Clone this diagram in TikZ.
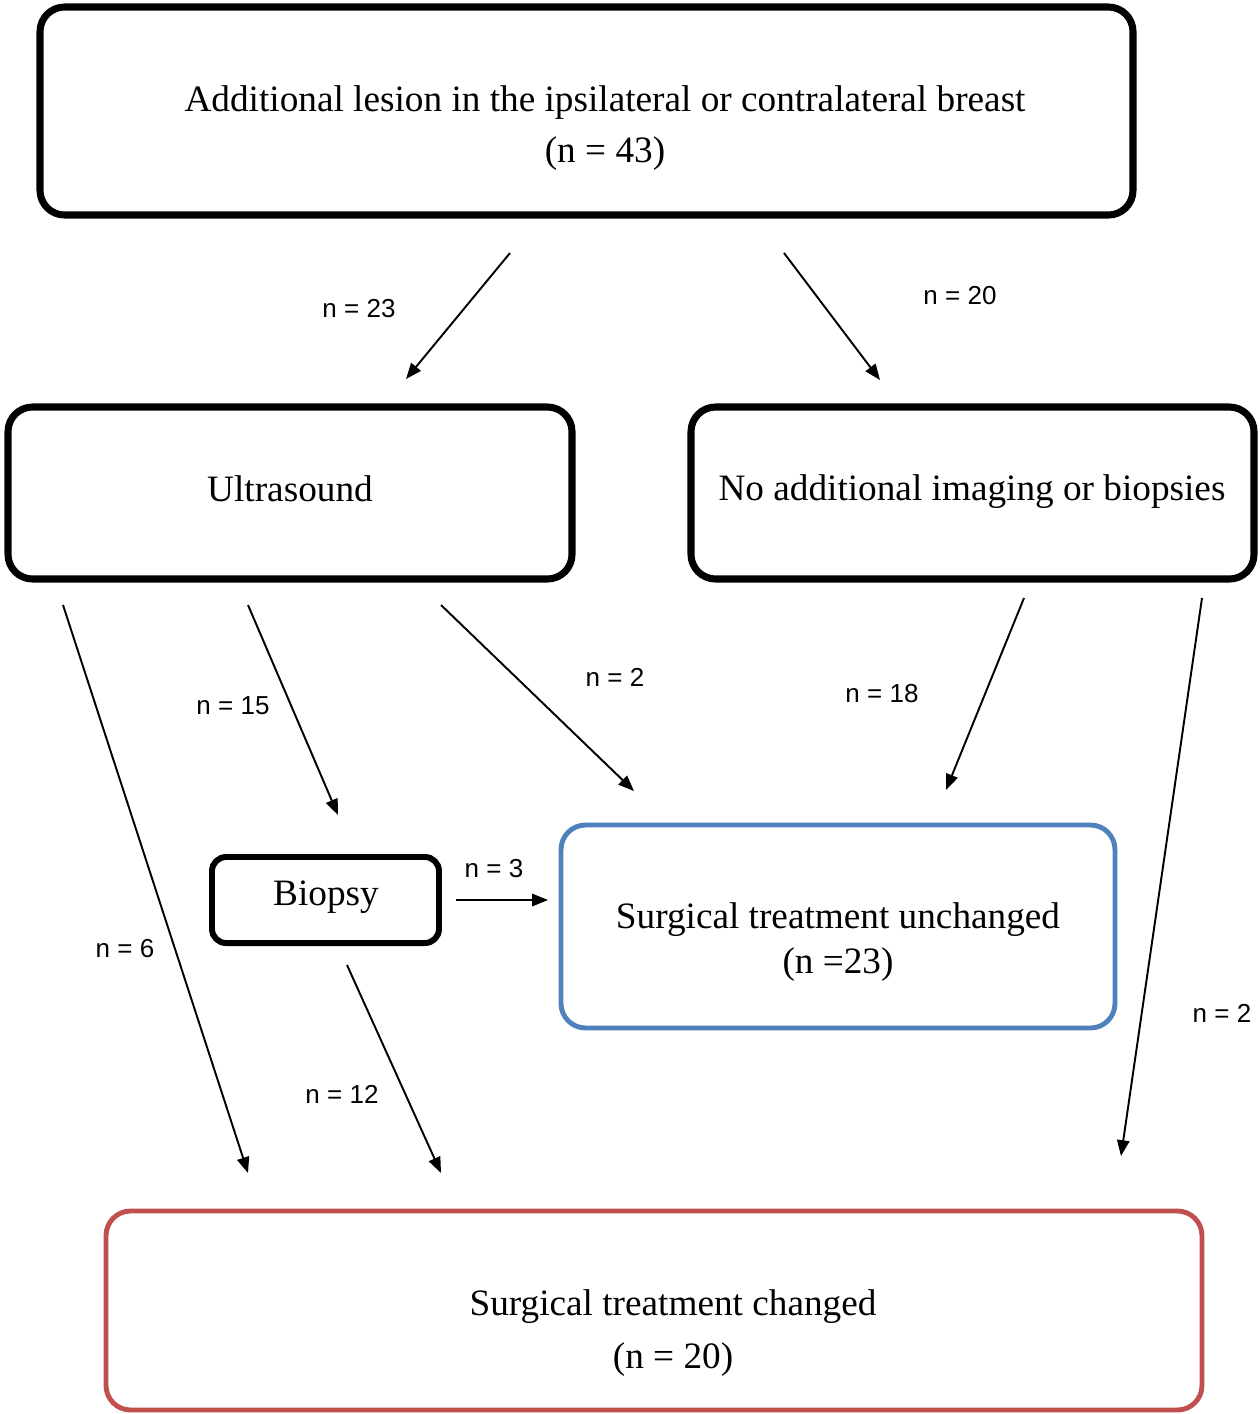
\documentclass[tikz,border=0pt]{standalone}
\usepackage{fontspec}
\setmainfont{Liberation Serif}
\newfontfamily\labfont{Liberation Sans}
\usetikzlibrary{arrows.meta}
\definecolor{boxblue}{HTML}{4F81BD}
\definecolor{boxred}{HTML}{C0504D}
\begin{document}
\begin{tikzpicture}[x=0.02cm,y=-0.02cm,
  box/.style={draw=black,line width=4pt,rounded corners=14pt,inner sep=0pt},
  txt/.style={font=\fontsize{21.2}{29}\selectfont,align=center,inner sep=0pt},
  lab/.style={font=\labfont\fontsize{14.8}{16}\selectfont,inner sep=0pt},
  arr/.style={line width=1.1pt,-{Triangle[length=9pt,width=7pt]}}]
\useasboundingbox (0,0) rectangle (1259,1414);
% boxes
\node[box,minimum width=1093*0.02cm,minimum height=208*0.02cm] (top) at (586.5,111) {};
\node[box,minimum width=564*0.02cm,minimum height=172*0.02cm] (us) at (290,493) {};
\node[box,minimum width=563*0.02cm,minimum height=172*0.02cm] (noimg) at (972.5,493) {};
\node[box,line width=3.4pt,rounded corners=8pt,minimum width=227*0.02cm,minimum height=86*0.02cm] (bio) at (325.5,900) {};
\node[box,draw=boxblue,line width=2.8pt,minimum width=554*0.02cm,minimum height=203*0.02cm] (unch) at (838,926.5) {};
\node[box,draw=boxred,line width=2.8pt,minimum width=1096*0.02cm,minimum height=199*0.02cm] (chg) at (654,1310.5) {};
% texts
\node[txt] (toptxt) at (605,128) {Additional lesion in the ipsilateral or contralateral breast\\(n = 43)};
\node[txt] (ustxt) at (290,489) {Ultrasound};
\node[txt] (noimgtxt) at (972,492) {No additional imaging or biopsies};
\node[txt] (biotxt) at (326,897) {Biopsy};
\node[txt,font=\fontsize{21.2}{25.5}\selectfont] (unchtxt) at (838,942) {Surgical treatment unchanged\\(n =23)};
\node[txt,font=\fontsize{21.2}{30}\selectfont] (chgtxt) at (673,1333) {Surgical treatment changed\\(n = 20)};
% arrow endpoints
\coordinate (a1s) at (510,253); \coordinate (a1e) at (406,379);
\coordinate (a2s) at (784,253); \coordinate (a2e) at (880,380);
\coordinate (a3s) at (63,605);  \coordinate (a3e) at (248,1173);
\coordinate (a4s) at (248,605); \coordinate (a4e) at (338,815);
\coordinate (a5s) at (441,605); \coordinate (a5e) at (634,791);
\coordinate (a6s) at (1024,598); \coordinate (a6e) at (946,790);
\coordinate (a7s) at (1202,598); \coordinate (a7e) at (1121,1156);
\coordinate (a8s) at (456,900); \coordinate (a8e) at (548,900);
\coordinate (a9s) at (347,965); \coordinate (a9e) at (441,1173);
\draw[arr] (a1s) -- (a1e);
\draw[arr] (a2s) -- (a2e);
\draw[arr] (a3s) -- (a3e);
\draw[arr] (a4s) -- (a4e);
\draw[arr] (a5s) -- (a5e);
\draw[arr] (a6s) -- (a6e);
\draw[arr] (a7s) -- (a7e);
\draw[arr] (a8s) -- (a8e);
\draw[arr] (a9s) -- (a9e);
% labels
\node[lab] (l1) at (359,309) {n = 23};
\node[lab] (l2) at (960,296) {n = 20};
\node[lab] (l3) at (125,949) {n = 6};
\node[lab] (l4) at (233,706) {n = 15};
\node[lab] (l5) at (615,677) {n = 2};
\node[lab] (l6) at (882,694) {n = 18};
\node[lab] (l7) at (1222,1013) {n = 2};
\node[lab] (l8) at (494,869) {n = 3};
\node[lab] (l9) at (342,1094) {n = 12};
\end{tikzpicture}
\end{document}
